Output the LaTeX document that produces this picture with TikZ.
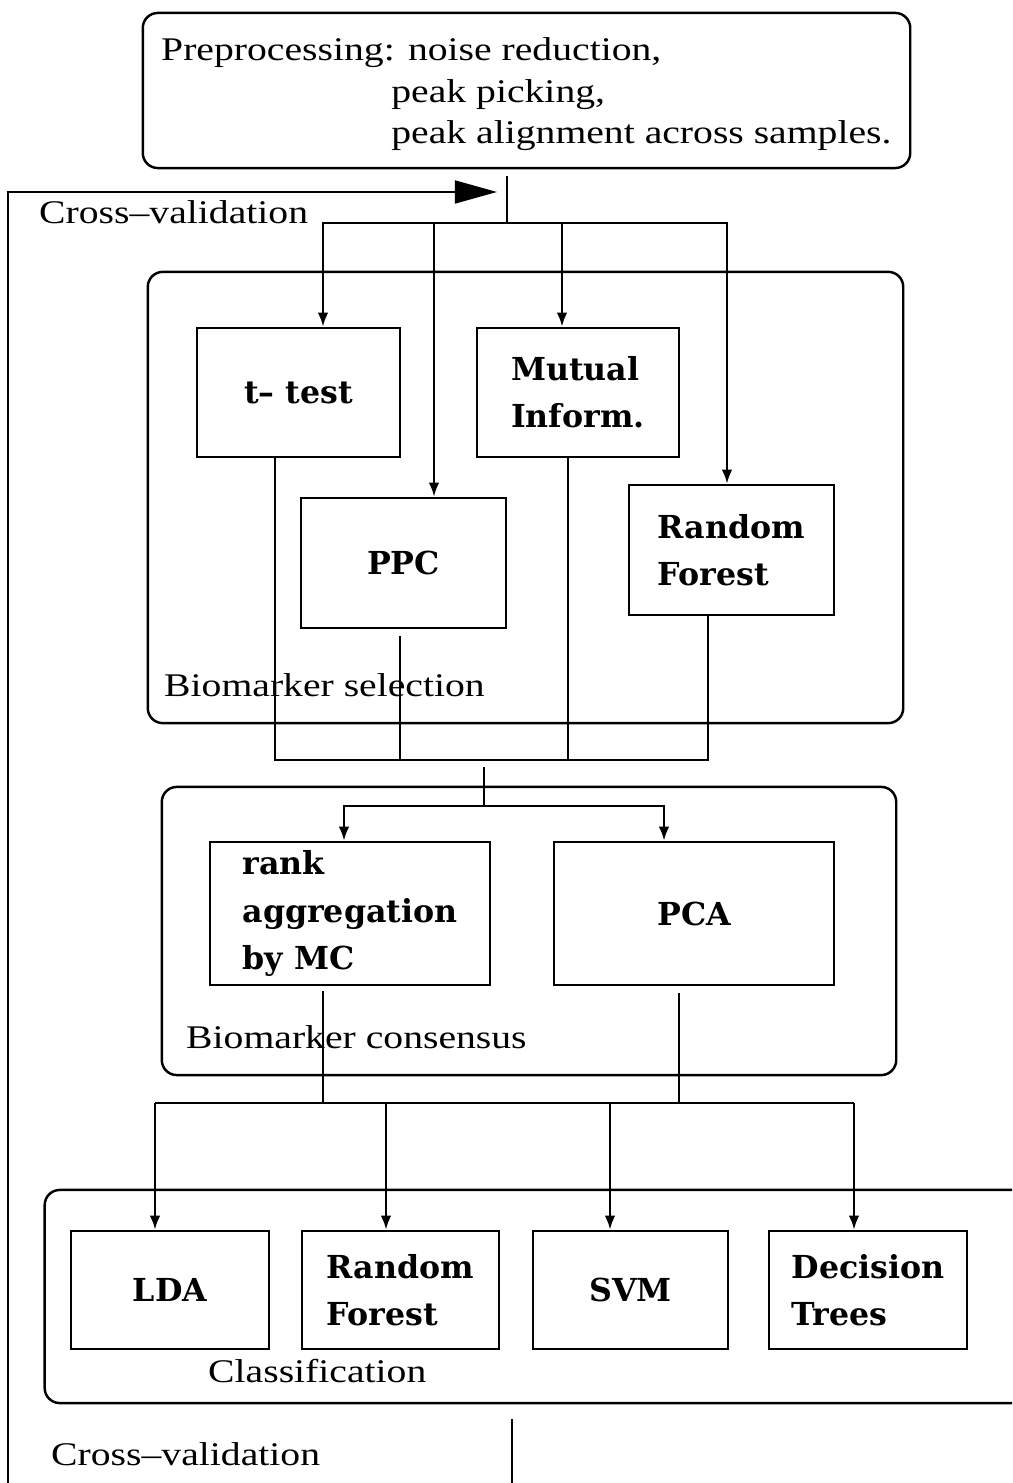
\documentclass[tikz,border=0pt]{standalone}
\usepackage{fontspec}
\setmainfont{Liberation Serif}[FakeStretch=1.2]
\newfontfamily\boxfont{DejaVu Serif}
\usetikzlibrary{arrows.meta}

\begin{document}
\begin{tikzpicture}[x=0.01cm, y=-0.01cm, line width=0.7pt,
  group/.style={draw, rounded corners=0.15cm, inner sep=0pt},
  method/.style={draw, inner sep=0pt, align=left,
    font=\boxfont\bfseries\fontsize{9}{13.4}\selectfont},
  note/.style={inner sep=0pt, font=\fontsize{9.4}{11.9}\selectfont},
  arr/.style={-{Latex[length=4pt,width=3pt]}},
  bigarr/.style={-{Triangle[length=12pt,width=6.5pt]}}]
  \useasboundingbox (0,0) rectangle (1012,1483);
  \clip (0,0) rectangle (1012,1483);

  % groups
  \node[group, minimum width=7.67cm, minimum height=1.55cm] (pre) at (526.5,90.5) {};
  \node[group, minimum width=7.55cm, minimum height=4.51cm] (sel) at (525.5,497.5) {};
  \node[group, minimum width=7.34cm, minimum height=2.88cm] (con) at (529,931) {};
  \node[group, minimum width=9.85cm, minimum height=2.13cm] (clf) at (537.5,1296.5) {};

  \node[note, anchor=north west, align=left] (pretext) at (160,36)
    {Preprocessing: noise reduction,\\ \hspace*{2.3cm}peak picking,\\ \hspace*{2.3cm}peak alignment across samples.};
  \node[note, anchor=base west] (cvtop) at (38,224) {Cross–validation};
  \node[note, anchor=base west] (selname) at (163,697) {Biomarker selection};
  \node[note, anchor=base west] (conname) at (185,1048) {Biomarker consensus};
  \node[note, anchor=base west] (clfname) at (207,1382) {Classification};
  \node[note, anchor=base west] (cvbot) at (50,1465) {Cross–validation};

  % biomarker selection
  \node[method, minimum width=2.03cm, minimum height=1.29cm] (ttest) at (298.5,392.5) {t– test};
  \node[method, minimum width=2.02cm, minimum height=1.29cm] (mi) at (578,392.5) {Mutual\\Inform.};
  \node[method, minimum width=2.05cm, minimum height=1.30cm] (ppc) at (403.5,563) {PPC};
  \node[method, minimum width=2.05cm, minimum height=1.30cm] (rf) at (731.5,550) {Random\\Forest};

  % biomarker consensus
  \node[method, minimum width=2.80cm, minimum height=1.43cm] (rank) at (350,913.5) {rank\\aggregation\\by MC};
  \node[method, minimum width=2.80cm, minimum height=1.43cm] (pca) at (694,913.5) {PCA};

  % classification
  \node[method, minimum width=1.98cm, minimum height=1.18cm] (lda) at (170,1290) {LDA};
  \node[method, minimum width=1.97cm, minimum height=1.18cm] (rfc) at (400.5,1290) {Random\\Forest};
  \node[method, minimum width=1.95cm, minimum height=1.18cm] (svm) at (630.5,1290) {SVM};
  \node[method, minimum width=1.98cm, minimum height=1.18cm] (dt) at (868,1290) {Decision\\Trees};

  % cross-validation loop
  \coordinate (cvtip) at (497,192);
  \coordinate (cvfoot) at (8,1483);
  \coordinate (cvback) at (512,1483);
  \draw[bigarr] (cvfoot) |- (cvtip);
  \draw ([yshift=-0.15cm]clf.south -| cvback) -- (cvback);

  % preprocessing -> selection
  \coordinate (split1) at (507,223);
  \draw ([yshift=-0.07cm]pre.south -| split1) -- (split1);
  \draw[arr] (split1) -| (323,0 |- ttest.north);
  \draw[arr] (split1) -| (434,0 |- ppc.north);
  \draw[arr] (split1) -| (562,0 |- mi.north);
  \draw[arr] (split1) -| (727,0 |- rf.north);

  % selection -> consensus
  \coordinate (merge1) at (484,760);
  \draw (275,0 |- ttest.south) |- (merge1) -| (708,0 |- rf.south);
  \draw (568,0 |- mi.south) -- (568,0 |- merge1);
  \draw ([yshift=-0.07cm]ppc.south -| 400,0) -- (400,0 |- merge1);
  \coordinate (split2) at (484,806);
  \draw ([yshift=-0.07cm]merge1) -- (split2);
  \draw[arr] (split2) -| (344,0 |- rank.north);
  \draw[arr] (split2) -| (664,0 |- pca.north);

  % consensus -> classification
  \coordinate (split3) at (500,1103);
  \draw ([yshift=-0.05cm]rank.south -| 323,0) -- (323,0 |- split3);
  \draw ([yshift=-0.07cm]pca.south -| 679,0) -- (679,0 |- split3);
  \draw (155,0 |- split3) -- (854,0 |- split3);
  \foreach \x/\b in {155/lda, 386/rfc, 610/svm, 854/dt}
    \draw[arr] (\x,0 |- split3) -- (\x,0 |- \b.north);
\end{tikzpicture}
\end{document}
